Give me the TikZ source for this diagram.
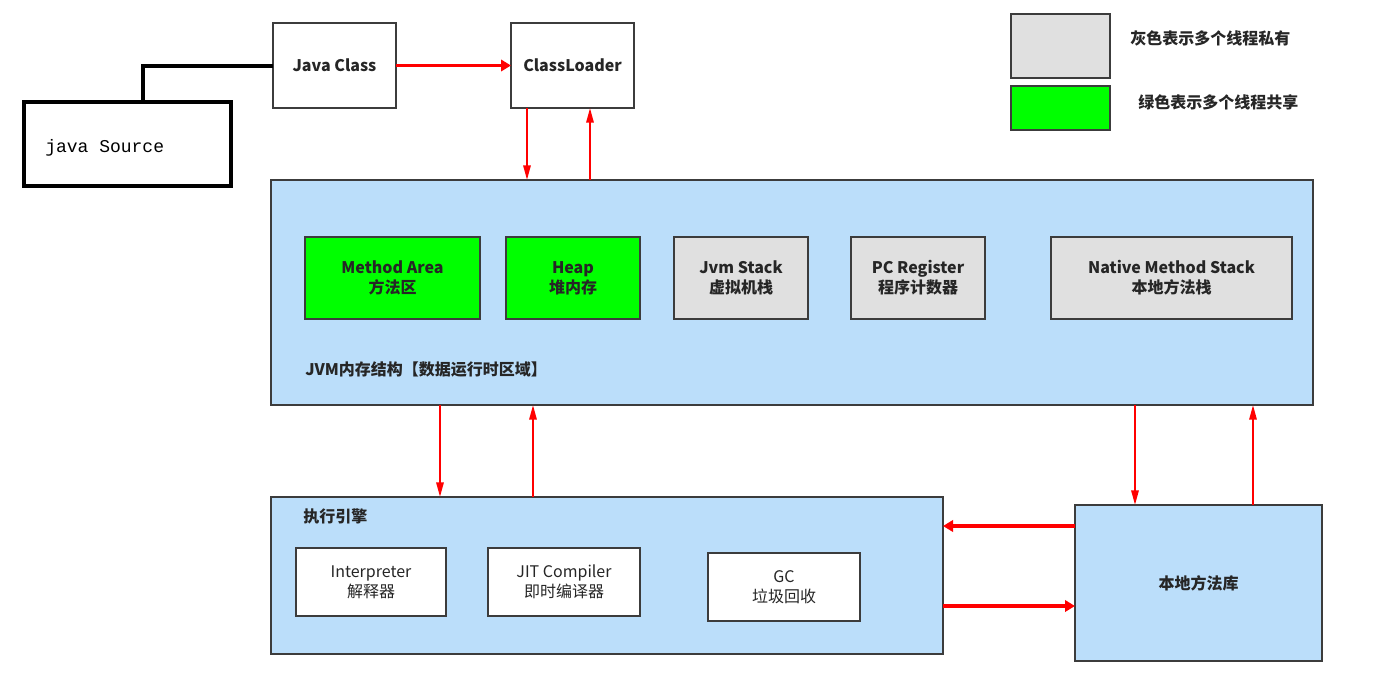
\documentclass[tikz,border=0pt]{standalone}
\usepackage{fontspec}
\setmainfont{Noto Sans CJK SC}
\newfontfamily\monof{Liberation Mono}
\usetikzlibrary{arrows.meta,calc}
\definecolor{lblue}{RGB}{187,222,250}
\definecolor{lgray}{RGB}{224,224,224}
\definecolor{lgreen}{RGB}{0,255,0}
\definecolor{bord}{RGB}{60,60,60}
\tikzset{
  sz/.style 2 args={minimum width={#1*0.75pt},minimum height={#2*0.75pt}},
  box/.style={draw=bord,line width=1.6pt,inner sep=0pt,outer sep=0pt,align=center,font=\fontsize{12}{15}\selectfont\bfseries,text=black!85},
  wbox/.style={box,fill=white},
  gbox/.style={box,fill=lgreen},
  ybox/.style={box,fill=lgray},
  bbox/.style={box,fill=lblue},
  ibox/.style={box,fill=white,font=\fontsize{12}{15}\selectfont},
  lab/.style={anchor=west,inner sep=0pt,font=\fontsize{12}{15}\selectfont\bfseries,text=black!85},
  arr/.style={draw=red,line width=1.5pt,-{Triangle[length=11pt,width=5.5pt]}},
  arrb/.style={draw=red,line width=2.6pt,-{Triangle[length=7.5pt,width=8.5pt]}},
}
\begin{document}
\begin{tikzpicture}[x=0.75pt,y=-0.75pt]
\useasboundingbox (0,0) rectangle (1397,693);
% top
\node[box,draw=black,line width=3pt,sz={207}{84}] (src) at (127.5,144) {};
\node[anchor=west,inner sep=0pt,font=\monof\fontsize{13.5}{15}\selectfont] (srct) at (45,148) {java Source};
\node[wbox,sz={123}{85}] (jc) at (334.5,65.5) {Java Class};
\node[wbox,sz={123}{85}] (cl) at (572.5,65.5) {ClassLoader};
% legend
\node[ybox,sz={99}{64}] (leg1) at (1060.5,46) {};
\node[lab] (leg1t) at (1130,38) {灰色表示多个线程私有};
\node[gbox,sz={99}{44}] (leg2) at (1060.5,108) {};
\node[lab] (leg2t) at (1138,102) {绿色表示多个线程共享};
% JVM
\node[bbox,sz={1042}{225}] (jvm) at (792,292.5) {};
\node[gbox,sz={175}{82}] (ma) at (392.5,278) {Method Area\\方法区};
\node[gbox,sz={134}{82}] (heap) at (573,278) {Heap\\堆内存};
\node[ybox,sz={134}{82}] (jvms) at (741,278) {Jvm Stack\\虚拟机栈};
\node[ybox,sz={134}{82}] (pc) at (918,278) {PC Register\\程序计数器};
\node[ybox,sz={241}{82}] (nms) at (1171.5,278) {Native Method Stack\\本地方法栈};
\node[lab] (jvml) at (305,369) {JVM内存结构【数据运行时区域】};
% exec engine
\node[bbox,sz={672}{157}] (ee) at (607,575.5) {};
\node[lab] (eel) at (303,516) {执行引擎};
\node[ibox,sz={150}{68}] (interp) at (371,582) {Interpreter\\解释器};
\node[ibox,sz={152}{68}] (jit) at (564,582) {JIT Compiler\\即时编译器};
\node[ibox,sz={152}{68}] (gc) at (784,587) {GC\\垃圾回收};
\node[bbox,sz={247}{156}] (nl) at (1198.5,583) {本地方法库};
% connectors
\draw[line width=3pt,black] ([xshift=11.6pt]src.north) |- (jc.west);
\draw[arrb] (jc.east) -- (cl.west);
\coordinate (c1) at (527,0);
\coordinate (c2) at (590,0);
\coordinate (c3) at (440,0);
\coordinate (c4) at (533,0);
\coordinate (c5) at (1135,0);
\coordinate (c6) at (1253,0);
\coordinate (r1) at (0,526);
\coordinate (r2) at (0,606);
\draw[arr] (c1 |- cl.south) -- (c1 |- jvm.north);
\draw[arr] (c2 |- jvm.north) -- (c2 |- cl.south);
\draw[arr] (c3 |- jvm.south) -- (c3 |- ee.north);
\draw[arr] (c4 |- ee.north) -- (c4 |- jvm.south);
\draw[arr] (c5 |- jvm.south) -- (c5 |- nl.north);
\draw[arr] (c6 |- nl.north) -- (c6 |- jvm.south);
\draw[arrb] (r1 -| nl.west) -- (r1 -| ee.east);
\draw[arrb] (r2 -| ee.east) -- (r2 -| nl.west);
\end{tikzpicture}
\end{document}
